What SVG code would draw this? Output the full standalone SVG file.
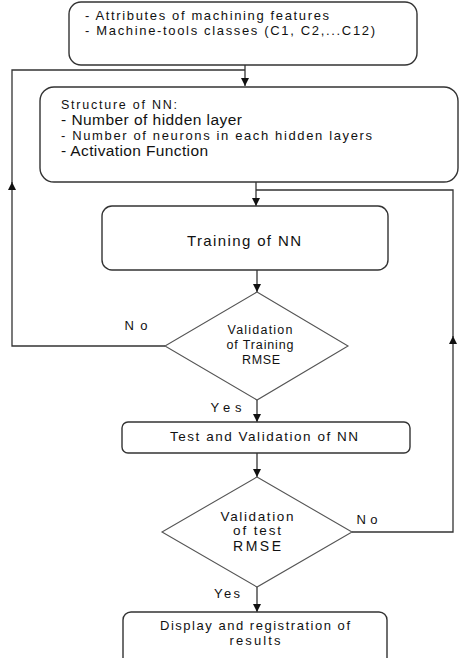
<svg xmlns="http://www.w3.org/2000/svg" width="474" height="658" viewBox="0 0 474 658">
<style>
  .box { fill: #ffffff; stroke: #333333; stroke-width: 1.4; }
  .dia { fill: #ffffff; stroke: #555555; stroke-width: 1.1; }
  .ln { fill: none; stroke: #333333; stroke-width: 1.3; }
  text { font-family: "Liberation Sans", Arial, sans-serif; fill: #111111; }
  .c { text-anchor: middle; }
</style>
<defs>
  <marker id="ah" viewBox="0 0 8 8" refX="8" refY="4" markerWidth="8" markerHeight="8" markerUnits="userSpaceOnUse" orient="auto">
    <path d="M0,0 L8,4 L0,8 z" fill="#111111"/>
  </marker>
</defs>
<rect width="474" height="658" fill="#ffffff"/>

<g id="connectors">
  <path class="ln" d="M245,65 V86" marker-end="url(#ah)"/>
  <path class="ln" d="M165,346 H12 V182" marker-end="url(#ah)"/>
  <path class="ln" d="M12,184 V70 H245"/>
  <path class="ln" d="M256,182 V206" marker-end="url(#ah)"/>
  <path class="ln" d="M257,270 V292" marker-end="url(#ah)"/>
  <path class="ln" d="M257,400 V422" marker-end="url(#ah)"/>
  <path class="ln" d="M257,453 V477" marker-end="url(#ah)"/>
  <path class="ln" d="M257,587 V612" marker-end="url(#ah)"/>
  <path class="ln" d="M352,532 H453 V336" marker-end="url(#ah)"/>
  <path class="ln" d="M453,338 V190 H256"/>
  <text x="136" y="330" class="c" font-size="13" textLength="23" lengthAdjust="spacing">No</text>
  <text x="226" y="412" class="c" font-size="13" textLength="31" lengthAdjust="spacing">Yes</text>
  <text x="367" y="524" class="c" font-size="13" textLength="21" lengthAdjust="spacing">No</text>
  <text x="227" y="598" class="c" font-size="13" textLength="26" lengthAdjust="spacing">Yes</text>
</g>

<g id="input">
  <rect class="box" x="69" y="2" width="348" height="63" rx="12"/>
  <text x="85" y="20" font-size="13" textLength="244" lengthAdjust="spacing">- Attributes of machining features</text>
  <text x="85" y="35" font-size="13" textLength="290" lengthAdjust="spacing">- Machine-tools classes (C1, C2,...C12)</text>
</g>

<g id="structure">
  <rect class="box" x="40" y="87" width="418" height="95" rx="14"/>
  <text x="61" y="109" font-size="12.5" textLength="116" lengthAdjust="spacing">Structure of NN:</text>
  <text x="61" y="125" font-size="15.5" textLength="181" lengthAdjust="spacing">- Number of hidden layer</text>
  <text x="61" y="140" font-size="13" textLength="311" lengthAdjust="spacing">- Number of neurons in each hidden layers</text>
  <text x="61" y="156" font-size="15.5" textLength="147" lengthAdjust="spacing">- Activation Function</text>
</g>

<g id="training">
  <rect class="box" x="102" y="206" width="286" height="64" rx="10"/>
  <text x="244" y="246" class="c" font-size="15" textLength="114" lengthAdjust="spacing">Training of NN</text>
</g>

<g id="val-training">
  <polygon class="dia" points="257,292 348,346 257,400 165,346"/>
  <text x="260" y="334" class="c" font-size="12.5" textLength="65" lengthAdjust="spacing">Validation</text>
  <text x="260" y="349" class="c" font-size="12.5" textLength="67" lengthAdjust="spacing">of Training</text>
  <text x="261" y="364" class="c" font-size="12.5" textLength="38" lengthAdjust="spacing">RMSE</text>
</g>

<g id="test">
  <rect class="box" x="122" y="422" width="288" height="31" rx="6"/>
  <text x="264" y="441" class="c" font-size="13.5" textLength="188" lengthAdjust="spacing">Test and Validation of NN</text>
</g>

<g id="val-test">
  <polygon class="dia" points="257,477 352,532 257,587 162,532"/>
  <text x="257" y="521" class="c" font-size="13.5" textLength="73" lengthAdjust="spacing">Validation</text>
  <text x="257" y="535" class="c" font-size="13.5" textLength="48" lengthAdjust="spacing">of test</text>
  <text x="257" y="551" class="c" font-size="14" textLength="48" lengthAdjust="spacing">RMSE</text>
</g>

<g id="display">
  <rect class="box" x="123" y="612" width="264" height="56" rx="8"/>
  <text x="255" y="630" class="c" font-size="13" textLength="190" lengthAdjust="spacing">Display and registration of</text>
  <text x="255" y="645" class="c" font-size="13" textLength="51" lengthAdjust="spacing">results</text>
</g>
</svg>
